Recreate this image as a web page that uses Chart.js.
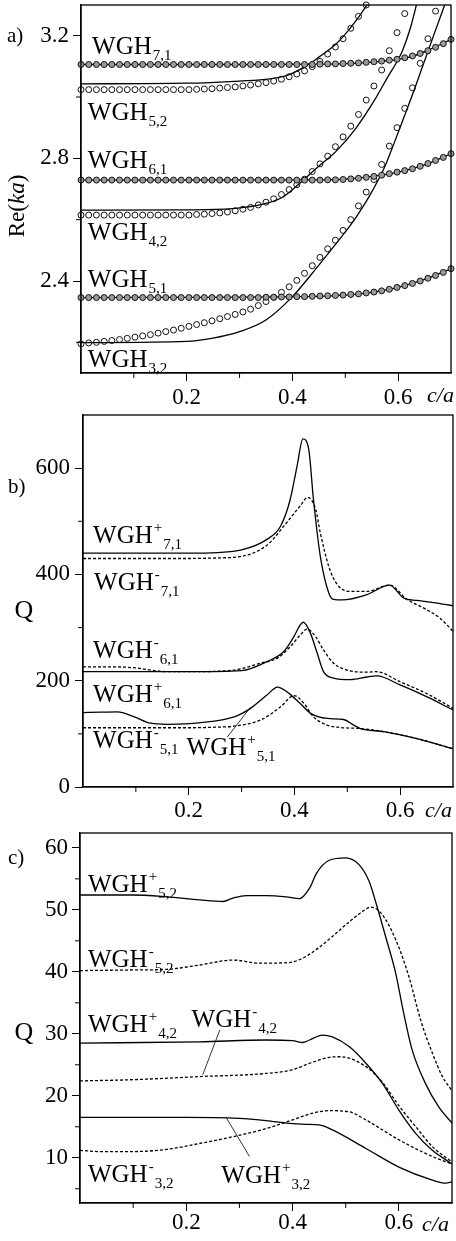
<!DOCTYPE html>
<html><head><meta charset="utf-8">
<script src="https://cdn.jsdelivr.net/npm/chart.js@4/dist/chart.umd.min.js"></script>
<style>
html,body{margin:0;padding:0;background:#fff;width:456px;height:1241px;overflow:hidden}
canvas{position:absolute;left:0}
</style></head><body>
<canvas id="ca" width="456" height="410" style="top:0;width:456px;height:410px"></canvas>
<canvas id="cb" width="456" height="410" style="top:410px;width:456px;height:410px"></canvas>
<canvas id="cc" width="456" height="421" style="top:820px;width:456px;height:421px"></canvas>
<script>
// ---------- Panel a: Re(ka) vs c/a ----------
const aCircleX = [0,.0146,.0292,.0438,.0583,.0729,.0875,.1021,.1167,.1313,.1458,.1604,.175,.1896,.2042,.2188,.2333,.2479,.2625,.2771,.2917,.3063,.3208,.3354,.35,.3646,.3792,.3938,.4083,.4229,.4375,.4521,.4667,.4813,.4958,.5104,.525,.5396,.5542,.5688,.5833,.5979,.6125,.6271,.6417,.6563,.6708,.6854,.70];
const aC71 = [3.106,3.106,3.106,3.106,3.106,3.106,3.106,3.106,3.106,3.106,3.106,3.106,3.106,3.106,3.106,3.106,3.106,3.106,3.106,3.106,3.106,3.106,3.106,3.106,3.106,3.106,3.106,3.106,3.106,3.106,3.106,3.107,3.108,3.108,3.109,3.110,3.111,3.113,3.115,3.117,3.120,3.123,3.128,3.134,3.142,3.151,3.162,3.174,3.188];
const aC61 = [2.729,2.729,2.729,2.729,2.729,2.729,2.729,2.729,2.729,2.729,2.729,2.729,2.729,2.729,2.729,2.729,2.729,2.729,2.729,2.729,2.729,2.729,2.729,2.729,2.729,2.729,2.729,2.729,2.729,2.729,2.729,2.729,2.730,2.730,2.731,2.733,2.735,2.738,2.741,2.745,2.750,2.755,2.760,2.766,2.774,2.783,2.793,2.803,2.815];
const aC51 = [2.346,2.346,2.346,2.346,2.346,2.346,2.346,2.346,2.346,2.346,2.346,2.346,2.346,2.346,2.346,2.346,2.346,2.346,2.346,2.346,2.346,2.346,2.346,2.346,2.347,2.347,2.348,2.348,2.349,2.349,2.350,2.351,2.352,2.353,2.354,2.356,2.358,2.361,2.364,2.368,2.373,2.379,2.385,2.392,2.400,2.409,2.418,2.428,2.440];
const aC52 = [3.024,3.024,3.024,3.024,3.024,3.024,3.024,3.024,3.024,3.024,3.024,3.024,3.024,3.024,3.024,3.025,3.026,3.027,3.029,3.031,3.033,3.036,3.039,3.043,3.047,3.052,3.058,3.066,3.075,3.085,3.099,3.116,3.140,3.163,3.190,3.224,3.263,3.300];
const aC42 = [2.615,2.615,2.615,2.615,2.615,2.615,2.615,2.615,2.615,2.615,2.615,2.615,2.615,2.615,2.615,2.617,2.618,2.620,2.622,2.625,2.629,2.634,2.640,2.648,2.657,2.668,2.682,2.698,2.714,2.732,2.757,2.782,2.807,2.838,2.870,2.905,2.943,2.990,3.036,3.088,3.151,3.210,3.272];
const aC32 = [2.195,2.198,2.200,2.203,2.206,2.209,2.213,2.217,2.221,2.225,2.230,2.235,2.240,2.246,2.252,2.258,2.264,2.270,2.277,2.284,2.291,2.299,2.308,2.320,2.333,2.347,2.363,2.381,2.402,2.425,2.450,2.477,2.505,2.533,2.565,2.600,2.645,2.690,2.731,2.780,2.840,2.900,2.963,3.030,3.110,3.190,3.280];

const aL71x = [0,0.3,0.45,0.5,0.55,0.6,0.63,0.66,0.70];
const aL71y = [3.106,3.106,3.107,3.109,3.114,3.123,3.134,3.155,3.188];
const aL52x = [0,0.2,0.3,0.357,0.394,0.432,0.45,0.482,0.5,0.52,0.545];
const aL52y = [3.043,3.045,3.052,3.059,3.073,3.108,3.13,3.172,3.205,3.248,3.31];
const aL61x = [0,0.45,0.5,0.55,0.6,0.65,0.70];
const aL61y = [2.729,2.730,2.732,2.741,2.755,2.779,2.815];
const aL42x = [0,0.2,0.287,0.35,0.382,0.407,0.45,0.482,0.52,0.555,0.58,0.599,0.608,0.624,0.636];
const aL42y = [2.631,2.632,2.636,2.653,2.674,2.708,2.775,2.822,2.898,2.989,3.064,3.119,3.15,3.23,3.31];
const aL51x = [0,0.45,0.5,0.55,0.6,0.65,0.70];
const aL51y = [2.346,2.350,2.354,2.363,2.379,2.405,2.44];
const aL32x = [0,0.2,0.25,0.3,0.35,0.4,0.45,0.5,0.52,0.545,0.574,0.592,0.611,0.630,0.649,0.668,0.688];
const aL32y = [2.199,2.203,2.214,2.235,2.273,2.349,2.452,2.56,2.607,2.675,2.77,2.848,2.934,3.021,3.113,3.205,3.30];

const aYMajor = [2.4,2.8,3.2];
const aYMinor = [2.2,2.6,3.0];
const xMajor = [0.2,0.4,0.6];
const xMinor = [0.1,0.3,0.5];

const aLabels = [
  {sub:'7,1', x:0.021, y:3.141},
  {sub:'5,2', x:0.013, y:2.924},
  {sub:'6,1', x:0.013, y:2.767},
  {sub:'4,2', x:0.013, y:2.533},
  {sub:'5,1', x:0.013, y:2.380},
  {sub:'3,2', x:0.013, y:2.120}
];

// ---------- Panel b: Q (n,1 modes) ----------
const b71px = [0,0.1,0.2,0.254,0.3,0.348,0.374,0.392,0.405,0.416,0.427,0.436,0.449,0.465,0.474,0.49,0.537,0.58,0.606,0.632,0.663,0.70];
const b71py = [440,440,440,441,446,466,491,541,604,655,636,541,434,365,353,352,362,380,356,351,347,341];
const b71mx = [0,0.1,0.2,0.254,0.3,0.348,0.38,0.411,0.425,0.44,0.449,0.465,0.481,0.506,0.537,0.58,0.613,0.644,0.675,0.70];
const b71my = [430,430,430,431,434,455,491,529,545,523,478,415,381,368,368,380,353,337,318,293];
const b61mx = [0,0.06,0.1,0.128,0.16,0.2,0.285,0.336,0.367,0.392,0.411,0.424,0.44,0.455,0.474,0.5,0.537,0.555,0.6,0.65,0.70];
const b61my = [226,226,224,220,217,217,220,233,242,264,286,297,283,258,233,220,216,217,198,176,148];
const b61px = [0,0.2,0.3,0.348,0.38,0.399,0.411,0.417,0.43,0.443,0.455,0.474,0.506,0.537,0.556,0.6,0.65,0.70];
const b61py = [217,217,219,236,255,283,305,310,290,252,217,205,202,207,209,192,170,145];
const b51px = [0,0.034,0.065,0.097,0.128,0.16,0.223,0.286,0.317,0.348,0.368,0.386,0.411,0.43,0.462,0.493,0.512,0.525,0.569,0.632,0.70];
const b51py = [140,141,141.5,132,120,118,121,132,148,173,188,179,157,139,129,127,116.5,110,104,91,72];
const b51mx = [0,0.2,0.25,0.286,0.336,0.374,0.399,0.418,0.436,0.462,0.487,0.525,0.569,0.632,0.70];
const b51my = [111.5,111.5,112.5,114.6,126,151,172,157.5,132,116.5,112,110,104,91,72];
const bLeadX = [0.273,0.317];
const bLeadY = [94,150];
const bYMajor = [0,200,400,600];
const bYMinor = [100,300,500];
const bLabels = [
  {sup:'+', sub:'7,1', x:0.019, y:460},
  {sup:'-', sub:'7,1', x:0.021, y:371},
  {sup:'-', sub:'6,1', x:0.019, y:243},
  {sup:'+', sub:'6,1', x:0.019, y:160},
  {sup:'-', sub:'5,1', x:0.019, y:73},
  {sup:'+', sub:'5,1', x:0.196, y:60}
];

// ---------- Panel c: Q (n,2 modes) ----------
const c52px = [0,0.1,0.163,0.225,0.269,0.288,0.313,0.35,0.388,0.413,0.432,0.445,0.469,0.5,0.525,0.544,0.557,0.575,0.594,0.607,0.625,0.65,0.675,0.70];
const c52py = [52.4,52.4,52.1,51.6,51.35,51.9,52.3,52.3,52.1,51.8,53.5,55.9,58.0,58.4,57.3,54.6,51.1,45.7,39.8,34.2,27.4,22.0,18.2,15.6];
const c52mx = [0,0.1,0.163,0.225,0.288,0.338,0.394,0.419,0.444,0.475,0.507,0.538,0.547,0.569,0.594,0.619,0.641,0.663,0.682,0.70];
const c52my = [40.2,40.3,40.4,41.1,41.9,41.4,41.5,42.2,43.55,45.7,48.1,50.1,50.45,49.2,45.2,39.2,32.2,26.9,23.1,20.8];
const c42px = [0,0.225,0.35,0.4,0.419,0.432,0.456,0.475,0.507,0.538,0.569,0.6,0.632,0.663,0.70];
const c42py = [28.5,28.7,29.0,28.9,28.6,29.0,29.8,29.5,27.9,25.25,22.0,17.7,13.9,11.2,9.0];
const c42mx = [0,0.1,0.225,0.35,0.4,0.432,0.469,0.49,0.538,0.569,0.6,0.632,0.663,0.70];
const c42my = [22.4,22.6,23.1,23.6,24.2,25.25,26.2,26.3,24.7,22.2,18.4,15.0,11.8,9.3];
const c32px = [0,0.2,0.288,0.35,0.394,0.425,0.45,0.475,0.538,0.6,0.663,0.688,0.70];
const c32py = [16.5,16.5,16.4,16.0,15.55,15.4,15.3,14.5,11.5,8.5,6.4,5.9,6.1];
const c32mx = [0,0.0375,0.1,0.163,0.225,0.288,0.35,0.4,0.438,0.469,0.507,0.538,0.6,0.663,0.70];
const c32my = [11.2,11.0,11.0,11.35,12.3,13.4,14.7,16.1,17.2,17.6,17.4,16.1,12.9,10.2,9.0];
const cLead1X = [0.231,0.263];
const cLead1Y = [23.4,30.6];
const cLead2X = [0.275,0.319];
const cLead2Y = [16.5,10.2];
const cYMajor = [10,20,30,40,50,60];
const cYMinor = [5,15,25,35,45,55];
const cLabels = [
  {sup:'+', sub:'5,2', x:0.015, y:52.9},
  {sup:'-', sub:'5,2', x:0.015, y:40.8},
  {sup:'+', sub:'4,2', x:0.015, y:30.3},
  {sup:'-', sub:'4,2', x:0.21, y:31.1},
  {sup:'-', sub:'3,2', x:0.015, y:6.07},
  {sup:'+', sub:'3,2', x:0.266, y:5.9}
];

// ---------- helpers ----------
const SERIF = '"Liberation Serif", "Times New Roman", serif';
Chart.defaults.font.family = SERIF;
Chart.defaults.color = '#000';

function pts(xs, ys){ return ys.map((y,i)=>({x:xs[i], y:y})); }
function curve(xs, ys, dashed){
  return {data:pts(xs,ys), borderColor:'#000', borderWidth:1.3, borderDash: dashed?[3,2]:[],
          pointRadius:0, cubicInterpolationMode:'monotone', fill:false};
}
function circles(ys, filled){
  return {data:pts(aCircleX, ys), showLine:false, pointStyle:'circle', pointRadius:3, pointBorderWidth:1,
          pointBorderColor:'#111', pointBackgroundColor: filled?'#9a9a9a':'rgba(255,255,255,0)', clip:false};
}
function leader(xs, ys){
  return {data:pts(xs,ys), borderColor:'#000', borderWidth:0.8, pointRadius:0, tension:0, fill:false};
}

const decor = {
  id:'decor',
  afterDraw(chart, args, o){
    const ctx = chart.ctx, ca = chart.chartArea, xs = chart.scales.x, ys = chart.scales.y;
    ctx.save();
    ctx.strokeStyle = '#000';
    ctx.lineWidth = 1.3;
    ctx.strokeRect(ca.left, ca.top, ca.right-ca.left, ca.bottom-ca.top);
    ctx.lineWidth = 1;
    ctx.beginPath();
    o.minorX.forEach(v=>{const p=xs.getPixelForValue(v); ctx.moveTo(p,ca.bottom); ctx.lineTo(p,ca.bottom+5);});
    o.minorY.forEach(v=>{const p=ys.getPixelForValue(v); ctx.moveTo(ca.left,p); ctx.lineTo(ca.left-5,p);});
    ctx.stroke();
    ctx.fillStyle = '#000';
    ctx.textAlign = 'left';
    ctx.textBaseline = 'alphabetic';
    o.labels.forEach(L=>{
      let px = xs.getPixelForValue(L.x), py = ys.getPixelForValue(L.y);
      ctx.font = '25px ' + SERIF;
      ctx.fillText('WGH', px, py);
      px += ctx.measureText('WGH').width + 1;
      ctx.font = '15px ' + SERIF;
      if (L.sup){ ctx.fillText(L.sup, px, py-11); px += ctx.measureText(L.sup).width + 1; }
      ctx.fillText(L.sub, px, py+6);
    });
    o.texts.forEach(it=>{
      ctx.save();
      ctx.translate(it.x, it.y);
      if (it.rot) ctx.rotate(it.rot);
      ctx.textBaseline = it.base || 'alphabetic';
      let w = 0;
      it.segs.forEach(s=>{ctx.font=s.f; w+=ctx.measureText(s.t).width;});
      let px = it.align==='center' ? -w/2 : 0;
      it.segs.forEach(s=>{ctx.font=s.f; ctx.fillText(s.t, px, 0); px+=ctx.measureText(s.t).width;});
      ctx.restore();
    });
    ctx.restore();
  }
};

function makeChart(id, p){
  const fmt = p.fmt;
  return new Chart(document.getElementById(id), {
    type:'line',
    data:{datasets:p.datasets},
    plugins:[decor],
    options:{
      responsive:false, animation:false, devicePixelRatio:1,
      layout:{padding:{left:0, top:p.padTop, right:p.padRight, bottom:0}},
      plugins:{legend:{display:false}, tooltip:{enabled:false},
        decor:{minorX:xMinor, minorY:p.yMinor, labels:p.labels, texts:p.texts}},
      scales:{
        x:{type:'linear', min:0, max:0.7,
           afterBuildTicks:s=>{ s.ticks = xMajor.map(v=>({value:v})); },
           afterFit:s=>{ s.height = p.xH; s.paddingLeft=0; s.paddingRight=0; },
           ticks:{font:{size:23, family:SERIF}, color:'#000', padding:p.xPad, maxRotation:0, autoSkip:false,
                  callback:v=>Number(v).toFixed(1)},
           grid:{drawOnChartArea:false, drawTicks:true, tickLength:8, tickColor:'#000', tickWidth:1, color:'#000'},
           border:{display:true, color:'#000', width:1.3}},
        y:{type:'linear', min:p.yMin, max:p.yMax,
           afterBuildTicks:s=>{ s.ticks = p.yMajor.map(v=>({value:v})); },
           afterFit:s=>{ s.width = p.yW; s.paddingTop=0; s.paddingBottom=0; },
           ticks:{font:{size:23, family:SERIF}, color:'#000', padding:p.yPad, autoSkip:false,
                  callback:v=>fmt(v)},
           grid:{drawOnChartArea:false, drawTicks:true, tickLength:8, tickColor:'#000', tickWidth:1, color:'#000'},
           border:{display:true, color:'#000', width:1.3}}
      }
    }
  });
}

// Panel a
makeChart('ca', {
  datasets:[
    circles(aC71,true), circles(aC61,true), circles(aC51,true),
    circles(aC52,false), circles(aC42,false), circles(aC32,false),
    curve(aL71x,aL71y), curve(aL52x,aL52y), curve(aL61x,aL61y),
    curve(aL42x,aL42y), curve(aL51x,aL51y), curve(aL32x,aL32y)
  ],
  yMin:2.1, yMax:3.3, yMajor:aYMajor, yMinor:aYMinor, fmt:v=>Number(v).toFixed(1),
  padTop:5, padRight:5, yW:81, xH:37, xPad:3, yPad:4, labels:aLabels,
  texts:[
    {segs:[{t:'a)', f:'21px '+SERIF}], x:7, y:42},
    {segs:[{t:'Re(', f:'23px '+SERIF},{t:'ka', f:'italic 23px '+SERIF},{t:')', f:'23px '+SERIF}], x:18, y:206, rot:-Math.PI/2, align:'center', base:'middle'},
    {segs:[{t:'c/a', f:'italic 22px '+SERIF}], x:427, y:402}
  ]
});

// Panel b
makeChart('cb', {
  datasets:[
    curve(b71px,b71py), curve(b71mx,b71my,true),
    curve(b61px,b61py), curve(b61mx,b61my,true),
    curve(b51px,b51py), curve(b51mx,b51my,true),
    leader(bLeadX,bLeadY)
  ],
  yMin:0, yMax:700, yMajor:bYMajor, yMinor:bYMinor, fmt:v=>String(v),
  padTop:5, padRight:3, yW:83, xH:33, xPad:2, yPad:5, labels:bLabels,
  texts:[
    {segs:[{t:'b)', f:'21px '+SERIF}], x:8, y:83},
    {segs:[{t:'Q', f:'26px '+SERIF}], x:24, y:201, align:'center', base:'middle'},
    {segs:[{t:'c/a', f:'italic 22px '+SERIF}], x:425, y:407}
  ]
});

// Panel c
makeChart('cc', {
  datasets:[
    curve(c52px,c52py), curve(c52mx,c52my,true),
    curve(c42px,c42py), curve(c42mx,c42my,true),
    curve(c32px,c32py), curve(c32mx,c32my,true),
    leader(cLead1X,cLead1Y), leader(cLead2X,cLead2Y)
  ],
  yMin:2.7, yMax:62.4, yMajor:cYMajor, yMinor:cYMinor, fmt:v=>String(v),
  padTop:13, padRight:4, yW:80, xH:38, xPad:-2, yPad:4, labels:cLabels,
  texts:[
    {segs:[{t:'c)', f:'21px '+SERIF}], x:8, y:44},
    {segs:[{t:'Q', f:'26px '+SERIF}], x:24, y:213, align:'center', base:'middle'},
    {segs:[{t:'c/a', f:'italic 22px '+SERIF}], x:422, y:411}
  ]
});
</script>
</body></html>
